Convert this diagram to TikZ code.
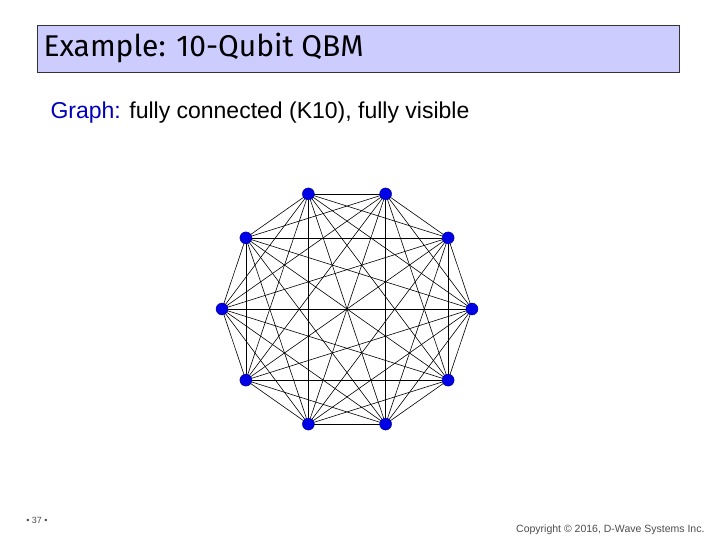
\documentclass[tikz,border=0pt]{standalone}
\usepackage{fontspec}
\setmainfont{Liberation Sans}
\newfontfamily\titlefont{Fira Sans}
\usetikzlibrary{positioning}
\definecolor{titlefill}{RGB}{204,204,255}
\definecolor{vertblue}{RGB}{0,0,230}
\tikzset{
  vert/.style={circle,fill=vertblue,draw=vertblue!60!black,inner sep=0pt,minimum size=12pt},
  link/.style={draw=black,line width=0.6pt}
}
\begin{document}
\begin{tikzpicture}[x=1pt,y=-1pt]
  \useasboundingbox (0,0) rectangle (720,540);
  % title bar
  \node (title) [draw=black!80,fill=titlefill,line width=0.8pt,minimum width=642pt,minimum height=47pt,anchor=north west,inner sep=0pt] at (37,25) {};
  \node (titletext) [anchor=west,font=\titlefont\fontsize{30}{32}\selectfont] at (40,48) {Example: 10-Qubit QBM};
  \node (sub) [anchor=west,font=\fontsize{23}{26}\selectfont] at (47,113) {\textcolor{vertblue!80!black}{Graph:} fully connected (K10), fully visible};
  % vertices
  \foreach \i in {0,...,9}
    \coordinate (p\i) at ({347+125*cos(36*\i)},{309-121*sin(36*\i)});
  % edges
  \foreach \i in {0,...,9}{
    \foreach \j in {0,...,9}{
      \ifnum\i<\j \draw[link] (p\i) -- (p\j); \fi
    }
  }
  \foreach \i in {0,...,9}
    \node (v\i) [vert] at (p\i) {};
  % footer
  \node (page) [font=\fontsize{9}{10}\selectfont,text=black!70] at (37,520) {\textbullet\ 37 \textbullet};
  \node (copy) [anchor=east,font=\fontsize{10.5}{12}\selectfont,text=black!70] at (708,530) {Copyright \textcopyright\ 2016, D-Wave Systems Inc.};
\end{tikzpicture}
\end{document}
